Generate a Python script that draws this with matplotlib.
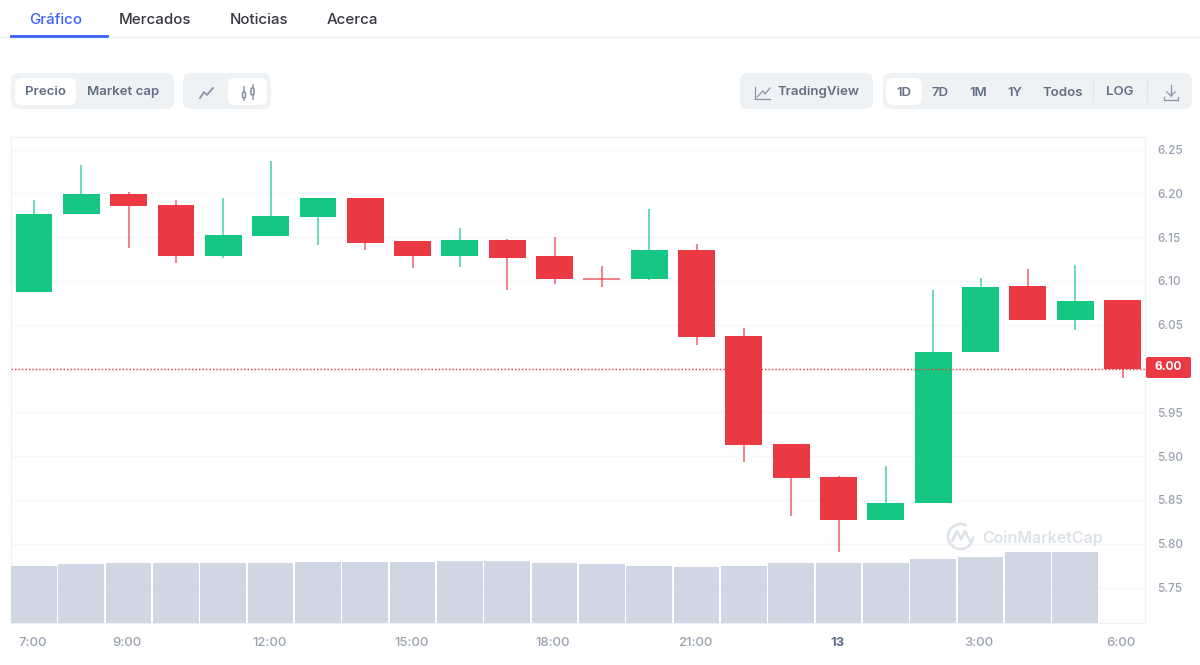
import matplotlib
matplotlib.use('Agg')
import matplotlib.pyplot as plt
from matplotlib.patches import FancyBboxPatch, Rectangle, Arc

plt.rcParams['font.family'] = ['Inter', 'DejaVu Sans']

GREEN = '#16c784'
RED = '#ea3943'
VOLUME = '#cfd6e4'
MUTED = '#9aa1ae'
SLATE = '#616e85'

# hourly candles starting at 7:00
opens = [6.087, 6.176, 6.199, 6.187, 6.128, 6.151, 6.173, 6.195, 6.146, 6.128, 6.147, 6.128,
         6.102, 6.102, 6.135, 6.037, 5.914, 5.876, 5.827, 5.846, 6.019, 6.094, 6.055, 6.078]
closes = [6.176, 6.199, 6.186, 6.128, 6.152, 6.174, 6.195, 6.143, 6.128, 6.147, 6.126, 6.102,
          6.102, 6.135, 6.036, 5.913, 5.875, 5.827, 5.846, 6.019, 6.093, 6.055, 6.077, 6.000]
highs = [6.192, 6.232, 6.201, 6.192, 6.195, 6.237, 6.195, 6.195, 6.146, 6.160, 6.148, 6.150,
         6.117, 6.182, 6.142, 6.046, 5.914, 5.877, 5.889, 6.090, 6.103, 6.114, 6.118, 6.078]
lows = [6.087, 6.176, 6.138, 6.120, 6.126, 6.151, 6.141, 6.135, 6.115, 6.116, 6.090, 6.097,
        6.093, 6.101, 6.027, 5.893, 5.832, 5.791, 5.827, 5.846, 6.019, 6.055, 6.044, 5.989]
volumes = [57.5, 59, 60, 60, 60, 60, 61, 61, 61, 62, 62, 60, 59, 57.5, 56.5, 57.5, 60, 60, 60,
           64, 66, 71, 71]

last_price = 6.00
price_ticks = [5.75, 5.80, 5.85, 5.90, 5.95, 6.00, 6.05, 6.10, 6.15, 6.20, 6.25]
time_ticks = [0, 2, 5, 8, 11, 14, 17, 20, 23]
time_labels = ['7:00', '9:00', '12:00', '15:00', '18:00', '21:00', '13', '3:00', '6:00']

tabs = ['Gráfico', 'Mercados', 'Noticias', 'Acerca']
ranges = ['1D', '7D', '1M', '1Y', 'Todos', 'LOG']

fig = plt.figure(figsize=(12, 6.65), dpi=100, facecolor='white')

# page coordinates for the toolbar
page = fig.add_axes([0, 0, 1, 1])
page.set_xlim(0, 1200)
page.set_ylim(665, 0)
page.axis('off')


def pill(x0, y0, x1, y1, color, radius=8):
    page.add_patch(FancyBboxPatch((x0 + radius, y0 + radius), x1 - x0 - 2 * radius, y1 - y0 - 2 * radius,
                                  boxstyle='round,pad=%d,rounding_size=%d' % (radius, radius),
                                  fc=color, ec='none'))


def label(x, y, s, color=SLATE, size=9.5, weight=600, ha='center'):
    page.text(x, y, s, color=color, fontsize=size, fontweight=weight, ha=ha, va='center')


# tabs
tab_x = [56, 155.5, 259, 352]
for i in range(len(tabs)):
    label(tab_x[i], 19.5, tabs[i], color='#3861fb' if i == 0 else '#33363f', size=10.8, weight=500)
page.plot([0, 1200], [37, 37], color='#eff2f5', lw=1)
page.plot([11, 107], [35.5, 35.5], color='#3861fb', lw=2)

# left button groups
pill(11, 73, 174, 109, '#eff2f5')
pill(15, 78, 76, 105, 'white', 7)
label(45, 92, 'Precio')
label(123.5, 92, 'Market cap')
pill(183, 73, 271, 109, '#eff2f5')
pill(228, 78, 267, 105, 'white', 7)
page.plot([200, 204, 207, 213], [98, 92, 95, 88], color='#8a94a6', lw=1.3)
for cx, top, bot, y0, y1 in [(244, 87, 100, 92, 98), (252.5, 85, 99, 88, 95)]:
    page.plot([cx, cx], [top, bot], color='#8a94a6', lw=1.1)
    page.add_patch(FancyBboxPatch((cx - 1.5, y0), 3, y1 - y0, boxstyle='round,pad=0,rounding_size=1.5',
                                  fc='white', ec='#8a94a6', lw=1.2, zorder=3))

# right button groups
pill(740, 73, 873, 109, '#eff2f5')
page.plot([755, 755, 770], [87, 99, 99], color='#8a94a6', lw=0.9)
page.plot([757, 763, 765, 770], [97, 91, 94, 88], color='#8a94a6', lw=0.9)
label(819, 92, 'TradingView')
pill(883, 73, 1192, 109, '#eff2f5')
pill(886, 78, 922, 105, 'white', 7)
range_x = [903.5, 940.5, 978, 1015, 1062.5, 1120]
for i in range(len(ranges)):
    label(range_x[i], 93 if i < 5 else 92, ranges[i])
page.plot([1093, 1093], [81, 101], color='#dfe3ea', lw=1)
page.plot([1147, 1147], [81, 101], color='#dfe3ea', lw=1)
page.plot([1171, 1171], [85, 96], color='#8a94a6', lw=0.9)
page.plot([1167, 1171, 1175], [92, 96, 92], color='#8a94a6', lw=0.9)
page.plot([1164, 1164, 1178, 1178], [97, 100, 100, 97], color='#8a94a6', lw=0.9)

# price panel, 11..1145 by 137..623 px
ax = fig.add_axes([11 / 1200, 1 - 623 / 665, 1134 / 1200, 486 / 665])
ax.patch.set_alpha(0)

# volume bars share the panel floor
vol_ax = ax.twinx()
vol_ax.set_ylim(0, 486)
vol_ax.axis('off')
vol_ax.bar(range(len(volumes)), volumes, width=0.965, color=VOLUME, lw=0, zorder=1)

ax.set_xlim(-0.486, 23.475)
ax.set_ylim(5.7095, 6.2643)
ax.yaxis.tick_right()
ax.set_yticks(price_ticks)
# the 6.00 row is labelled by the last price tag
price_labels = ['' if p == last_price else '%.2f' % p for p in price_ticks]
ax.set_yticklabels(price_labels, color=MUTED, fontsize=8.5, fontweight=500)
ax.set_xticks([t - 0.03 for t in time_ticks])
ax.set_xticklabels(time_labels, color=MUTED, fontsize=9.5, fontweight=500)
ax.get_xticklabels()[6].set_fontweight('bold')
ax.get_xticklabels()[6].set_color(SLATE)
ax.tick_params(length=0, axis='y', pad=9)
ax.tick_params(length=0, axis='x', pad=10)
ax.grid(axis='y', color='#f6f7f9', lw=1)
ax.set_axisbelow(True)
for spine in ax.spines.values():
    spine.set_color('#eff2f5')
    spine.set_linewidth(1)

for i in range(len(opens)):
    color = GREEN if closes[i] > opens[i] else RED
    ax.vlines(i, lows[i], highs[i], color=color, lw=1.1, alpha=0.8, zorder=3)
    height = abs(closes[i] - opens[i])
    if height > 0:
        ax.bar(i, height, bottom=min(opens[i], closes[i]), width=0.78, color=color, lw=0, zorder=4)
    else:
        ax.hlines(opens[i], i - 0.39, i + 0.39, color=color, lw=1.1, alpha=0.8, zorder=4)

ax.axhline(last_price, color=RED, lw=1, ls=(0, (1, 1.5)), zorder=5)

# last price tag and watermark sit over the panel
page.set_zorder(vol_ax.get_zorder() + 1)
page.patch.set_alpha(0)
pill(1146, 357, 1191, 378, RED, 2)
label(1168, 367.5, '%.2f' % last_price, color='white', size=8.5, weight='bold')
label(982, 538, 'CoinMarketCap', color='#dde1e8', size=11.5, ha='left')
page.add_patch(Arc((960.5, 536.5), 25, 25, theta1=0, theta2=300, color='#dde1e8', lw=1.8))
page.plot([952, 957, 961, 965, 970], [541, 531, 539, 531, 541], color='#dde1e8', lw=1.8)

fig.savefig('out.png', dpi=100)
